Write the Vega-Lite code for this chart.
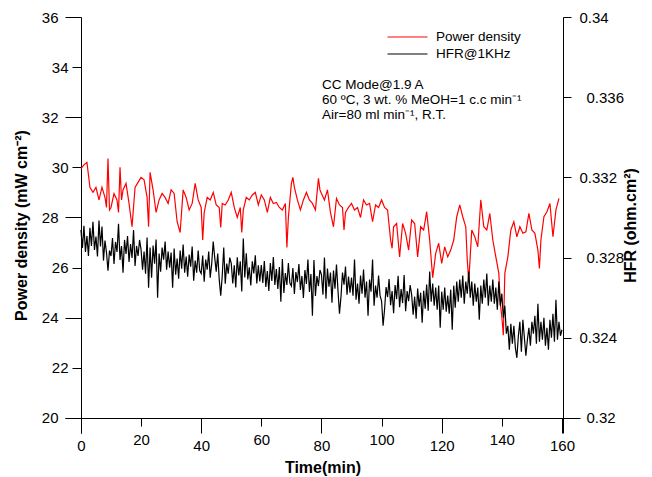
{
  "$schema": "https://vega.github.io/schema/vega-lite/v6.json",
  "width": 515,
  "height": 416,
  "autosize": {"type": "none"},
  "padding": {"left": 65, "top": 17, "right": 72, "bottom": 44},
  "config": {
    "view": {"stroke": null},
    "font": "Liberation Sans",
    "axis": {
      "domainColor": "#000000", "tickColor": "#000000", "labelColor": "#000000", "titleColor": "#000000",
      "labelFont": "Liberation Sans", "titleFont": "Liberation Sans",
      "labelFontSize": 15, "titleFontSize": 16, "titleFontWeight": "bold",
      "grid": false, "labelFlush": false, "labelOverlap": false, "labelBound": false,
      "domainWidth": 1, "tickWidth": 1
    }
  },
  "datasets": {
    "pd": [
      {"t":0,"pd":29.95},{"t":1,"pd":30.1},{"t":2,"pd":30.2},{"t":3,"pd":29.2},{"t":4,"pd":29.0},{"t":5,"pd":29.2},{"t":6,"pd":28.7},{"t":7,"pd":29.2},{"t":8,"pd":28.8},{"t":8.5,"pd":28.4},{"t":9,"pd":30.35},{"t":9.5,"pd":28.3},
      {"t":10,"pd":28.4},{"t":11,"pd":28.95},{"t":12,"pd":28.7},{"t":12.5,"pd":28.2},{"t":13,"pd":30.0},{"t":13.5,"pd":28.7},{"t":14,"pd":29.1},{"t":15,"pd":29.36},{"t":16,"pd":28.56},{"t":17,"pd":27.63},{"t":18,"pd":29.2},{"t":19,"pd":29.4},
      {"t":20,"pd":29.6},{"t":21,"pd":29.5},{"t":22,"pd":28.8},{"t":22.5,"pd":27.63},{"t":23,"pd":29.8},{"t":24,"pd":29.1},{"t":25,"pd":28.2},{"t":26,"pd":28.7},{"t":27,"pd":28.96},{"t":28,"pd":28.8},{"t":29,"pd":28.56},
      {"t":30,"pd":29.1},{"t":31,"pd":28.96},{"t":32,"pd":27.83},{"t":33,"pd":27.4},{"t":34,"pd":29.1},{"t":35,"pd":28.8},{"t":36,"pd":28.3},{"t":37,"pd":28.56},{"t":38,"pd":29.36},{"t":39,"pd":28.7},
      {"t":40,"pd":28.4},{"t":40.5,"pd":27.1},{"t":41,"pd":28.2},{"t":42,"pd":28.8},{"t":43,"pd":28.7},{"t":44,"pd":29.0},{"t":45,"pd":28.5},{"t":46,"pd":28.4},{"t":46.5,"pd":27.6},{"t":47,"pd":28.56},{"t":48,"pd":28.5},{"t":49,"pd":28.7},
      {"t":50,"pd":29.0},{"t":51,"pd":28.4},{"t":52,"pd":28.0},{"t":53,"pd":28.4},{"t":53.5,"pd":27.4},{"t":54,"pd":28.3},{"t":55,"pd":28.8},{"t":56,"pd":28.7},{"t":57,"pd":28.9},{"t":58,"pd":29.0},{"t":59,"pd":28.5},
      {"t":60,"pd":28.9},{"t":61,"pd":28.7},{"t":62,"pd":28.2},{"t":63,"pd":28.8},{"t":64,"pd":28.56},{"t":65,"pd":28.6},{"t":66,"pd":28.4},{"t":67,"pd":28.3},{"t":68,"pd":28.56},{"t":68.5,"pd":26.8},{"t":69,"pd":28.0},
      {"t":70,"pd":29.36},{"t":70.5,"pd":29.6},{"t":71,"pd":29.2},{"t":72,"pd":28.7},{"t":73,"pd":28.3},{"t":74,"pd":28.7},{"t":75,"pd":29.0},{"t":76,"pd":28.7},{"t":77,"pd":28.56},{"t":78,"pd":28.3},{"t":79,"pd":29.56},{"t":79.5,"pd":29.1},
      {"t":80,"pd":28.96},{"t":81,"pd":28.7},{"t":82,"pd":29.1},{"t":83,"pd":28.2},{"t":84,"pd":27.63},{"t":85,"pd":28.76},{"t":86,"pd":28.5},{"t":87,"pd":28.4},{"t":87.5,"pd":27.5},{"t":88,"pd":28.2},{"t":89,"pd":28.4},
      {"t":90,"pd":28.56},{"t":91,"pd":28.3},{"t":92,"pd":28.4},{"t":93,"pd":28.0},{"t":94,"pd":28.7},{"t":95,"pd":28.5},{"t":96,"pd":28.56},{"t":97,"pd":27.83},{"t":98,"pd":28.5},{"t":99,"pd":28.4},
      {"t":100,"pd":28.7},{"t":101,"pd":28.4},{"t":102,"pd":28.3},{"t":103,"pd":27.1},{"t":103.5,"pd":26.77},{"t":104,"pd":27.63},{"t":105,"pd":27.76},{"t":106,"pd":26.43},{"t":107,"pd":27.76},{"t":108,"pd":27.37},{"t":109,"pd":26.7},
      {"t":110,"pd":27.9},{"t":111,"pd":27.76},{"t":112,"pd":26.43},{"t":113,"pd":27.63},{"t":114,"pd":27.5},{"t":115,"pd":28.23},{"t":116,"pd":27.1},{"t":117,"pd":25.6},{"t":118,"pd":26.57},{"t":119,"pd":26.97},
      {"t":120,"pd":26.17},{"t":121,"pd":26.83},{"t":122,"pd":26.43},{"t":123,"pd":26.7},{"t":124,"pd":27.1},{"t":125,"pd":28.03},{"t":126,"pd":28.5},{"t":127,"pd":28.03},{"t":128,"pd":27.63},{"t":128.5,"pd":26.3},{"t":129,"pd":25.45},
      {"t":130,"pd":27.5},{"t":131,"pd":27.23},{"t":132,"pd":26.83},{"t":133,"pd":28.7},{"t":134,"pd":27.63},{"t":135,"pd":27.5},{"t":136,"pd":28.16},{"t":137,"pd":27.1},{"t":138,"pd":26.43},{"t":139,"pd":25.77},{"t":139.5,"pd":24.57},
      {"t":140,"pd":24.04},{"t":140.5,"pd":23.3},{"t":141,"pd":25.77},{"t":142,"pd":26.43},{"t":143,"pd":27.5},{"t":144,"pd":27.83},{"t":145,"pd":27.23},{"t":146,"pd":27.63},{"t":147,"pd":27.37},{"t":148,"pd":27.43},{"t":149,"pd":28.16},
      {"t":150,"pd":27.5},{"t":151,"pd":27.37},{"t":152,"pd":26.7},{"t":152.5,"pd":25.97},{"t":153,"pd":27.1},{"t":154,"pd":28.03},{"t":155,"pd":28.23},{"t":156,"pd":28.56},{"t":157,"pd":27.23},{"t":158,"pd":28.3},{"t":159,"pd":28.76}
    ],
    "hfr": [
      {"t":0,"hfr":0.32938},{"t":0.5,"hfr":0.32848},{"t":1,"hfr":0.32958},{"t":1.5,"hfr":0.32828},{"t":2,"hfr":0.32908},{"t":2.5,"hfr":0.32808},{"t":3,"hfr":0.32948},{"t":3.5,"hfr":0.32858},{"t":4,"hfr":0.32978},{"t":4.5,"hfr":0.32838},
      {"t":5,"hfr":0.32905},{"t":5.5,"hfr":0.32805},{"t":6,"hfr":0.32985},{"t":6.5,"hfr":0.32855},{"t":7,"hfr":0.32955},{"t":7.5,"hfr":0.32785},{"t":8,"hfr":0.32885},{"t":8.5,"hfr":0.32825},{"t":9,"hfr":0.32735},{"t":9.5,"hfr":0.32835},
      {"t":10,"hfr":0.32808},{"t":10.5,"hfr":0.32898},{"t":11,"hfr":0.32768},{"t":11.5,"hfr":0.32878},{"t":12,"hfr":0.32828},{"t":12.5,"hfr":0.32968},{"t":13,"hfr":0.32788},{"t":13.5,"hfr":0.32858},{"t":14,"hfr":0.32725},{"t":14.5,"hfr":0.32888},
      {"t":15,"hfr":0.32818},{"t":15.5,"hfr":0.32908},{"t":16,"hfr":0.32778},{"t":16.5,"hfr":0.32868},{"t":17,"hfr":0.32798},{"t":17.5,"hfr":0.32938},{"t":18,"hfr":0.32758},{"t":18.5,"hfr":0.32858},{"t":19,"hfr":0.32808},{"t":19.5,"hfr":0.32888},
      {"t":20,"hfr":0.3284},{"t":20.5,"hfr":0.3274},{"t":21,"hfr":0.3283},{"t":21.5,"hfr":0.3272},{"t":22,"hfr":0.329},{"t":22.5,"hfr":0.3265},{"t":23,"hfr":0.3285},{"t":23.5,"hfr":0.327},{"t":24,"hfr":0.3286},{"t":24.5,"hfr":0.3277},
      {"t":25,"hfr":0.3289},{"t":25.5,"hfr":0.326},{"t":26,"hfr":0.3282},{"t":26.5,"hfr":0.3273},{"t":27,"hfr":0.3285},{"t":27.5,"hfr":0.3279},{"t":28,"hfr":0.3288},{"t":28.5,"hfr":0.3274},{"t":29,"hfr":0.3283},{"t":29.5,"hfr":0.3275},
      {"t":30,"hfr":0.32825},{"t":30.5,"hfr":0.3265},{"t":31,"hfr":0.32845},{"t":31.5,"hfr":0.32715},{"t":32,"hfr":0.32795},{"t":32.5,"hfr":0.32695},{"t":33,"hfr":0.32835},{"t":33.5,"hfr":0.32745},{"t":34,"hfr":0.32865},{"t":34.5,"hfr":0.32725},
      {"t":35,"hfr":0.32805},{"t":35.5,"hfr":0.32705},{"t":36,"hfr":0.32815},{"t":36.5,"hfr":0.32755},{"t":37,"hfr":0.32855},{"t":37.5,"hfr":0.32685},{"t":38,"hfr":0.32785},{"t":38.5,"hfr":0.32725},{"t":39,"hfr":0.32835},{"t":39.5,"hfr":0.32735},
      {"t":40,"hfr":0.3272},{"t":40.5,"hfr":0.3281},{"t":41,"hfr":0.3268},{"t":41.5,"hfr":0.3279},{"t":42,"hfr":0.3274},{"t":42.5,"hfr":0.3283},{"t":43,"hfr":0.327},{"t":43.5,"hfr":0.3277},{"t":44,"hfr":0.3288},{"t":44.5,"hfr":0.328},
      {"t":45,"hfr":0.3273},{"t":45.5,"hfr":0.3282},{"t":46,"hfr":0.3269},{"t":46.5,"hfr":0.3261},{"t":47,"hfr":0.3271},{"t":47.5,"hfr":0.3285},{"t":48,"hfr":0.3267},{"t":48.5,"hfr":0.3277},{"t":49,"hfr":0.3272},{"t":49.5,"hfr":0.328},
      {"t":50,"hfr":0.32771},{"t":50.5,"hfr":0.32671},{"t":51,"hfr":0.32761},{"t":51.5,"hfr":0.32651},{"t":52,"hfr":0.32801},{"t":52.5,"hfr":0.32711},{"t":53,"hfr":0.32781},{"t":53.5,"hfr":0.32631},{"t":54,"hfr":0.32895},{"t":54.5,"hfr":0.32701},
      {"t":55,"hfr":0.32821},{"t":55.5,"hfr":0.32691},{"t":56,"hfr":0.32751},{"t":56.5,"hfr":0.32661},{"t":57,"hfr":0.32781},{"t":57.5,"hfr":0.32721},{"t":58,"hfr":0.32811},{"t":58.5,"hfr":0.32671},{"t":59,"hfr":0.32761},{"t":59.5,"hfr":0.32681},
      {"t":60,"hfr":0.32763},{"t":60.5,"hfr":0.32673},{"t":61,"hfr":0.32783},{"t":61.5,"hfr":0.32653},{"t":62,"hfr":0.32733},{"t":62.5,"hfr":0.32633},{"t":63,"hfr":0.32773},{"t":63.5,"hfr":0.32683},{"t":64,"hfr":0.32803},{"t":64.5,"hfr":0.32663},
      {"t":65,"hfr":0.32743},{"t":65.5,"hfr":0.32643},{"t":66,"hfr":0.32753},{"t":66.5,"hfr":0.3258},{"t":67,"hfr":0.32793},{"t":67.5,"hfr":0.32623},{"t":68,"hfr":0.32723},{"t":68.5,"hfr":0.32663},{"t":69,"hfr":0.32773},{"t":69.5,"hfr":0.32673},
      {"t":70,"hfr":0.32658},{"t":70.5,"hfr":0.32748},{"t":71,"hfr":0.32618},{"t":71.5,"hfr":0.32728},{"t":72,"hfr":0.32678},{"t":72.5,"hfr":0.32768},{"t":73,"hfr":0.32638},{"t":73.5,"hfr":0.32708},{"t":74,"hfr":0.32598},{"t":74.5,"hfr":0.32738},
      {"t":75,"hfr":0.32668},{"t":75.5,"hfr":0.3279},{"t":76,"hfr":0.32628},{"t":76.5,"hfr":0.32718},{"t":77,"hfr":0.3251},{"t":77.5,"hfr":0.32788},{"t":78,"hfr":0.32608},{"t":78.5,"hfr":0.32708},{"t":79,"hfr":0.32658},{"t":79.5,"hfr":0.32738},
      {"t":80,"hfr":0.32715},{"t":80.5,"hfr":0.32615},{"t":81,"hfr":0.328},{"t":81.5,"hfr":0.32595},{"t":82,"hfr":0.32745},{"t":82.5,"hfr":0.32655},{"t":83,"hfr":0.32725},{"t":83.5,"hfr":0.32575},{"t":84,"hfr":0.32735},{"t":84.5,"hfr":0.32645},
      {"t":85,"hfr":0.32765},{"t":85.5,"hfr":0.32635},{"t":86,"hfr":0.3252},{"t":86.5,"hfr":0.32605},{"t":87,"hfr":0.32725},{"t":87.5,"hfr":0.32665},{"t":88,"hfr":0.32755},{"t":88.5,"hfr":0.32615},{"t":89,"hfr":0.32705},{"t":89.5,"hfr":0.32625},
      {"t":90,"hfr":0.327},{"t":90.5,"hfr":0.3261},{"t":91,"hfr":0.3279},{"t":91.5,"hfr":0.3259},{"t":92,"hfr":0.3267},{"t":92.5,"hfr":0.3257},{"t":93,"hfr":0.3271},{"t":93.5,"hfr":0.3262},{"t":94,"hfr":0.3274},{"t":94.5,"hfr":0.326},
      {"t":95,"hfr":0.3268},{"t":95.5,"hfr":0.3251},{"t":96,"hfr":0.3269},{"t":96.5,"hfr":0.3263},{"t":97,"hfr":0.3279},{"t":97.5,"hfr":0.3256},{"t":98,"hfr":0.3266},{"t":98.5,"hfr":0.326},{"t":99,"hfr":0.3271},{"t":99.5,"hfr":0.3261},
      {"t":100,"hfr":0.32583},{"t":100.5,"hfr":0.3246},{"t":101,"hfr":0.32543},{"t":101.5,"hfr":0.32653},{"t":102,"hfr":0.32603},{"t":102.5,"hfr":0.32693},{"t":103,"hfr":0.32563},{"t":103.5,"hfr":0.32633},{"t":104,"hfr":0.32523},{"t":104.5,"hfr":0.32663},
      {"t":105,"hfr":0.32593},{"t":105.5,"hfr":0.32709},{"t":106,"hfr":0.32553},{"t":106.5,"hfr":0.32643},{"t":107,"hfr":0.32573},{"t":107.5,"hfr":0.32713},{"t":108,"hfr":0.32533},{"t":108.5,"hfr":0.32633},{"t":109,"hfr":0.32583},{"t":109.5,"hfr":0.32663},
      {"t":110,"hfr":0.32615},{"t":110.5,"hfr":0.32515},{"t":111,"hfr":0.32605},{"t":111.5,"hfr":0.32495},{"t":112,"hfr":0.32645},{"t":112.5,"hfr":0.32555},{"t":113,"hfr":0.32625},{"t":113.5,"hfr":0.32475},{"t":114,"hfr":0.32635},{"t":114.5,"hfr":0.32545},
      {"t":115,"hfr":0.32665},{"t":115.5,"hfr":0.32535},{"t":116,"hfr":0.3273},{"t":116.5,"hfr":0.3258},{"t":117,"hfr":0.3267},{"t":117.5,"hfr":0.3256},{"t":118,"hfr":0.3265},{"t":118.5,"hfr":0.3254},{"t":119,"hfr":0.3266},{"t":119.5,"hfr":0.3245},
      {"t":120,"hfr":0.3263},{"t":120.5,"hfr":0.3254},{"t":121,"hfr":0.3265},{"t":121.5,"hfr":0.3253},{"t":122,"hfr":0.3261},{"t":122.5,"hfr":0.3252},{"t":123,"hfr":0.3264},{"t":123.5,"hfr":0.3244},{"t":124,"hfr":0.3266},{"t":124.5,"hfr":0.3255},
      {"t":125,"hfr":0.3268},{"t":125.5,"hfr":0.3258},{"t":126,"hfr":0.3269},{"t":126.5,"hfr":0.326},{"t":127,"hfr":0.3271},{"t":127.5,"hfr":0.3257},{"t":128,"hfr":0.3268},{"t":128.5,"hfr":0.3262},{"t":129,"hfr":0.3273},{"t":129.5,"hfr":0.326},
      {"t":130,"hfr":0.3268},{"t":130.5,"hfr":0.3256},{"t":131,"hfr":0.3267},{"t":131.5,"hfr":0.3258},{"t":132,"hfr":0.3265},{"t":132.5,"hfr":0.3249},{"t":133,"hfr":0.3266},{"t":133.5,"hfr":0.3257},{"t":134,"hfr":0.3269},{"t":134.5,"hfr":0.326},
      {"t":135,"hfr":0.3272},{"t":135.5,"hfr":0.3256},{"t":136,"hfr":0.3266},{"t":136.5,"hfr":0.3258},{"t":137,"hfr":0.3269},{"t":137.5,"hfr":0.3257},{"t":138,"hfr":0.3265},{"t":138.5,"hfr":0.3254},{"t":139,"hfr":0.3268},{"t":139.5,"hfr":0.3256},
      {"t":140,"hfr":0.3262},{"t":140.5,"hfr":0.325},{"t":141,"hfr":0.3256},{"t":141.5,"hfr":0.3242},{"t":142,"hfr":0.3246},{"t":142.5,"hfr":0.3234},{"t":143,"hfr":0.3247},{"t":143.5,"hfr":0.3237},{"t":144,"hfr":0.3246},{"t":144.5,"hfr":0.3235},
      {"t":145,"hfr":0.323},{"t":145.5,"hfr":0.3241},{"t":146,"hfr":0.3248},{"t":146.5,"hfr":0.3233},{"t":147,"hfr":0.3249},{"t":147.5,"hfr":0.324},{"t":148,"hfr":0.3231},{"t":148.5,"hfr":0.3239},{"t":149,"hfr":0.3245},{"t":149.5,"hfr":0.3236},
      {"t":150,"hfr":0.3248},{"t":150.5,"hfr":0.3242},{"t":151,"hfr":0.3251},{"t":151.5,"hfr":0.3237},{"t":152,"hfr":0.3257},{"t":152.5,"hfr":0.3238},{"t":153,"hfr":0.3248},{"t":153.5,"hfr":0.3239},{"t":154,"hfr":0.325},{"t":154.5,"hfr":0.3236},
      {"t":155,"hfr":0.3245},{"t":155.5,"hfr":0.3234},{"t":156,"hfr":0.3249},{"t":156.5,"hfr":0.324},{"t":157,"hfr":0.3252},{"t":157.5,"hfr":0.3238},{"t":158,"hfr":0.3259},{"t":158.5,"hfr":0.3239},{"t":159,"hfr":0.3248},{"t":159.5,"hfr":0.3241},{"t":160,"hfr":0.3244}
    ]
  },
  "layer": [
    {
      "data": {"name": "pd"},
      "mark": {"type": "line", "strokeWidth": 1.2},
      "encoding": {
        "x": {
          "field": "t", "type": "quantitative",
          "scale": {"domain": [-5.3, 166], "nice": false, "zero": false},
          "axis": {
            "orient": "bottom", "offset": -15, "title": "Time(min)", "titlePadding": 6,
            "values": [0, 40, 80, 120, 160], "format": "d",
            "tickSize": 15, "labelPadding": 5
          }
        },
        "y": {
          "field": "pd", "type": "quantitative",
          "scale": {"domain": [19.4, 36], "nice": false, "zero": false},
          "axis": {
            "orient": "left", "offset": -16, "title": "Power density (mW cm⁻²)", "titlePadding": 12,
            "values": [20, 24, 28, 32, 36], "format": "d",
            "tickSize": 16, "labelPadding": 7
          }
        },
        "color": {
          "datum": "Power density",
          "scale": {"domain": ["Power density", "HFR@1KHz"], "range": ["#ff0000", "#000000"]},
          "legend": {
            "orient": "none", "legendX": 322, "legendY": 12, "title": null,
            "symbolType": "stroke", "symbolSize": 1600, "symbolStrokeWidth": 1,
            "clipHeight": 16, "rowPadding": 1,
            "labelFont": "Liberation Sans", "labelFontSize": 13.5, "labelColor": "#000000",
            "labelOffset": 8
          }
        }
      }
    },
    {
      "data": {"values": [{}]},
      "mark": {
        "type": "text", "align": "left", "baseline": "top", "fontSize": 13.5, "lineHeight": 15,
        "font": "Liberation Sans", "fill": "#000000"
      },
      "encoding": {
        "x": {
          "datum": 80.2, "type": "quantitative",
          "scale": {"domain": [-5.3, 166], "nice": false, "zero": false},
          "axis": {
            "orient": "bottom", "offset": -15, "title": null, "domain": false,
            "values": [20, 60, 100, 140], "format": "d",
            "tickSize": 8, "labelPadding": 6
          }
        },
        "y": {
          "datum": 33.55, "type": "quantitative",
          "scale": {"domain": [19.4, 36], "nice": false, "zero": false},
          "axis": {
            "orient": "left", "offset": -16, "title": null, "domain": false,
            "values": [22, 26, 30, 34], "format": "d",
            "tickSize": 9, "labelPadding": 4
          }
        },
        "text": {"value": ["CC Mode@1.9 A", "60 ºC, 3 wt. % MeOH=1 c.c min⁻¹", "Air=80 ml min⁻¹, R.T."]}
      }
    },
    {
      "data": {"name": "hfr"},
      "mark": {"type": "line", "strokeWidth": 1.2},
      "encoding": {
        "x": {"field": "t", "type": "quantitative", "scale": {"domain": [-5.3, 166], "nice": false, "zero": false}, "axis": null},
        "y": {
          "field": "hfr", "type": "quantitative",
          "scale": {"domain": [0.31925, 0.34], "nice": false, "zero": false},
          "axis": {
            "orient": "right", "offset": -17, "title": "HFR (ohm.cm²)", "titleAngle": 270, "titleBaseline": "top", "titlePadding": -1,
            "values": [0.32, 0.324, 0.328, 0.332, 0.336, 0.34], "format": ".3~f",
            "tickSize": 8,
            "labelPadding": {"condition": {"test": "round(datum.value * 1000) % 8 === 4", "value": 8}, "value": 15}
          }
        },
        "color": {"datum": "HFR@1KHz"}
      }
    }
  ],
  "resolve": {"scale": {"x": "independent", "y": "independent"}}
}
